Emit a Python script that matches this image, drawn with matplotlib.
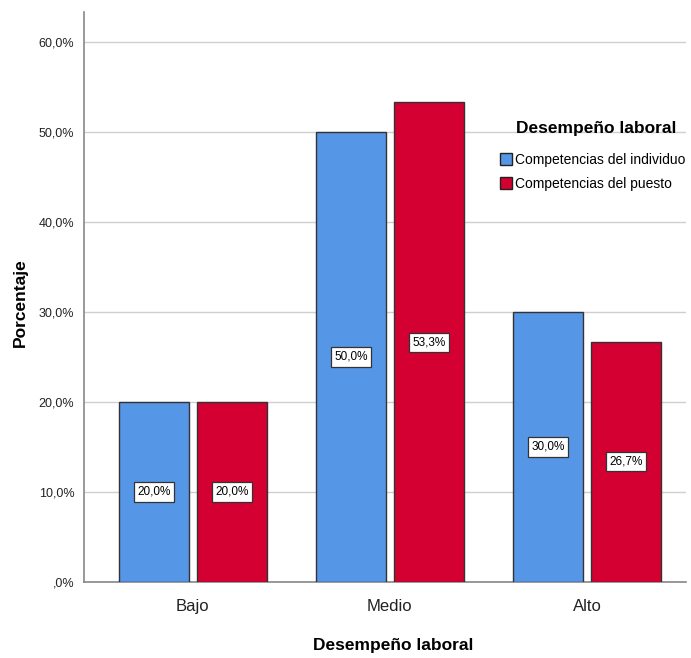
import matplotlib
matplotlib.use("Agg")
import matplotlib.pyplot as plt
import numpy as np

categories = ["Bajo", "Medio", "Alto"]
series_names = ["Competencias del individuo", "Competencias del puesto"]
individuo = [20.0, 50.0, 30.0]
puesto = [20.0, 53.3, 26.7]
y_ticks = [0, 10, 20, 30, 40, 50, 60]

colors = ["#5596E6", "#D30031"]

plt.rcParams["font.family"] = ["Liberation Sans", "DejaVu Sans"]


def fmt_pct(v):
    s = f"{v:.1f}".replace(".", ",")
    if s.startswith("0"):
        s = s[1:]
    return s + "%"


fig = plt.figure(figsize=(6.91, 6.58), dpi=100)
ax = fig.add_axes([84 / 691, 1 - 582 / 658, 602 / 691, 570 / 658])

x = np.arange(len(categories))
width = 0.355
offset = 0.198

for i, (vals, name) in enumerate(zip([individuo, puesto], series_names)):
    pos = x + (offset if i else -offset)
    ax.bar(pos, vals, width, color=colors[i], edgecolor="#333333",
           linewidth=1.0, label=name, zorder=3)
    for px, v in zip(pos, vals):
        ax.text(px, v / 2, fmt_pct(v), ha="center", va="center",
                fontsize=8.5, zorder=4,
                bbox=dict(boxstyle="square,pad=0.3", fc="white",
                          ec="#333333", lw=0.9))

ax.set_xlim(-0.553, 2.503)
ax.set_ylim(0, 63.33)
ax.set_yticks(y_ticks)
ax.set_yticklabels([fmt_pct(v) for v in y_ticks], fontsize=9, color="#222222")
ax.set_xticks(x)
ax.set_xticklabels(categories, fontsize=12, color="#222222")
ax.tick_params(axis="both", length=0)
ax.tick_params(axis="x", pad=12)
ax.tick_params(axis="y", pad=7)

ax.grid(axis="y", color="#CFCFCF", linewidth=1.0, zorder=0)
for side in ["top", "right"]:
    ax.spines[side].set_visible(False)
for side in ["left", "bottom"]:
    ax.spines[side].set_color("#888888")
    ax.spines[side].set_linewidth(1.2)

ax.set_xlabel("Desempeño laboral", fontsize=12.5, fontweight="bold")
ax.set_ylabel("Porcentaje", fontsize=12.5, fontweight="bold")
ax.xaxis.set_label_coords(0.513, -0.098)
ax.yaxis.set_label_coords(-0.093, 0.49)

# legend title drawn separately so it can sit further above the entries
fig.text(596 / 691, 1 - 128 / 658, "Desempeño laboral", ha="center",
         va="center", fontsize=12.5, fontweight="bold")
leg = ax.legend(loc="upper left", bbox_to_anchor=(500 / 691, 1 - 153 / 658),
                bbox_transform=fig.transFigure, frameon=False, borderpad=0,
                borderaxespad=0, handlelength=0.85, handleheight=1.0,
                handletextpad=0.2, labelspacing=0.7,
                prop={"size": 10})
for h in leg.legend_handles:
    h.set_edgecolor("#222222")

fig.savefig("out.png", dpi=100)
